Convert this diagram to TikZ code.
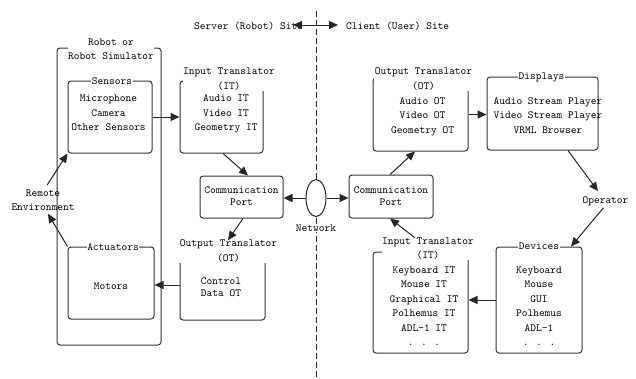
\documentclass[tikz,border=0pt]{standalone}
\usepackage{fontspec}
\usetikzlibrary{arrows.meta,shapes.geometric}
\begin{document}
\begin{tikzpicture}[x=1pt,y=-1pt,
  lbl/.style={font=\fontsize{10.9}{14.5}\selectfont\ttfamily, align=center, inner sep=1pt, text=black},
  lbltight/.style={font=\fontsize{10.9}{12.5}\selectfont\ttfamily, align=center, inner sep=1pt, text=black},
  ttl/.style={lbl, fill=white, inner sep=0.5pt},
  frame/.style={draw=black!80, line width=1pt, rounded corners=3pt, inner sep=0pt},
  arr/.style={draw=black!85, line width=1pt, -{Triangle[length=9pt,width=8pt]}},
  darr/.style={draw=black!85, line width=1pt, {Triangle[length=9pt,width=8pt]}-{Triangle[length=9pt,width=8pt]}},
  divider/.style={draw=black!85, line width=0.9pt, dash pattern=on 6pt off 3pt}
]
\useasboundingbox (0,0) rectangle (636,378);

% dividing line
\coordinate (dtop) at (316,11);
\coordinate (dbot) at (316,378);
\draw[divider] (dtop) -- (dbot);

% site labels
\node[lbl, anchor=west] (server) at (193,26) {Server (Robot) Site};
\node[lbl, anchor=west] (client) at (345,26) {Client (User) Site};
\coordinate (sl) at (293,25);
\coordinate (sr) at (338,25);
\draw[darr] (sl) -- (sr);

% robot side
\node[frame, minimum width=104pt, minimum height=297pt] (robot) at (109,196.5) {};
\node[ttl] (robottitle) at (111,49) {Robot or\\Robot Simulator};

\node[frame, minimum width=84pt, minimum height=72pt] (sens) at (110,117) {};
\node[ttl] (senstitle) at (112,81) {Sensors};
\node[lbl] (senstxt) at (108.5,113) {Microphone\\Camera\\Other Sensors};

\node[frame, minimum width=86pt, minimum height=72pt] (act) at (111,283) {};
\node[ttl] (acttitle) at (113,247) {Actuators};
\node[lbl] (acttxt) at (111,286) {Motors};

\node[lbl] (remote) at (43,200) {Remote\\Environment};

% server translators
\node[frame, minimum width=83pt, minimum height=72pt] (itl) at (221.5,117) {};
\node[ttl] (itltitle) at (229,79) {Input Translator\\(IT)};
\node[lbl] (itltxt) at (226,114) {Audio IT\\Video IT\\Geometry IT};

\node[frame, minimum width=83pt, minimum height=42pt] (commL) at (241.5,197) {};
\node[lbltight] (commLtxt) at (241.5,196) {Communication\\Port};

\node[frame, minimum width=85pt, minimum height=70pt] (otl) at (222.5,285) {};
\node[ttl] (otltitle) at (228.5,251) {Output Translator\\(OT)};
\node[lbltight] (otltxt) at (221,287) {Control\\Data OT};

% network
\node[draw=black!85, line width=1pt, fill=white, ellipse, minimum width=20pt, minimum height=37pt, inner sep=0pt] (net) at (316,198) {};
\node[lbl, fill=white] (netlbl) at (316,228) {Network};

% client side
\node[frame, minimum width=84pt, minimum height=43pt] (commR) at (391,196.5) {};
\node[lbltight] (commRtxt) at (391,196) {Communication\\Port};

\node[frame, minimum width=95pt, minimum height=73pt] (otr) at (420.5,114.5) {};
\node[ttl] (otrtitle) at (423.5,79) {Output Translator\\(OT)};
\node[lbl] (otrtxt) at (422.5,116.5) {Audio OT\\Video OT\\Geometry OT};

\node[frame, minimum width=111pt, minimum height=73pt] (disp) at (542.5,113.5) {};
\node[ttl] (disptitle) at (541.5,77) {Displays};
\node[lbl] (disptxt) at (548,115.5) {Audio Stream Player\\Video Stream Player\\VRML Browser};

\node[lbl] (op) at (605.5,201) {Operator};

\node[frame, minimum width=86pt, minimum height=106pt] (dev) at (539,300) {};
\node[ttl] (devtitle) at (539,246) {Devices};
\node[lbl] (devtxt) at (539,306) {Keyboard\\Mouse\\GUI\\Polhemus\\ADL-1\\. . .};

\node[frame, minimum width=95pt, minimum height=101pt] (itr) at (420.5,302.5) {};
\node[ttl] (itrtitle) at (428,248.5) {Input Translator\\(IT)};
\node[lbl] (itrtxt) at (424,306) {Keyboard IT\\Mouse IT\\Graphical IT\\Polhemus IT\\ADL-1 IT\\. . .};

% connectors
\draw[arr] (sens.east) -- (sens.east -| itl.west);
\draw[arr] ([xshift=1.5pt]itl.south) -- ([xshift=6.5pt]commL.north);
\draw[arr] ([xshift=1.5pt]commL.south) -- ([xshift=-0.5pt,yshift=-1pt]otltitle.north);
\draw[arr] (otl.west) -- (otl.west -| act.east);
\draw[arr] ([xshift=4pt,yshift=3pt]remote.north) -- (sens.south west);
\draw[arr] (act.north west) -- ([xshift=5pt,yshift=-2pt]remote.south);
\draw[arr] (net.west) -- (net.west -| commL.east);
\draw[arr] (net.east) -- (net.east -| commR.west);
\draw[arr] ([xshift=-1pt]commR.north) -- ([xshift=-5.5pt]otr.south);
\draw[arr] (otr.east) -- (otr.east -| disp.west);
\draw[arr] ([xshift=25.5pt]disp.south) -- ([xshift=-7.5pt,yshift=4pt]op.north);
\draw[arr] ([xshift=-2pt,yshift=-1pt]op.south) -- ([xshift=32pt]dev.north);
\draw[arr] (dev.west) -- (dev.west -| itr.east);
\draw[arr] ([xshift=-13pt,yshift=-1pt]itrtitle.north) -- ([xshift=-1pt]commR.south);
\end{tikzpicture}
\end{document}
